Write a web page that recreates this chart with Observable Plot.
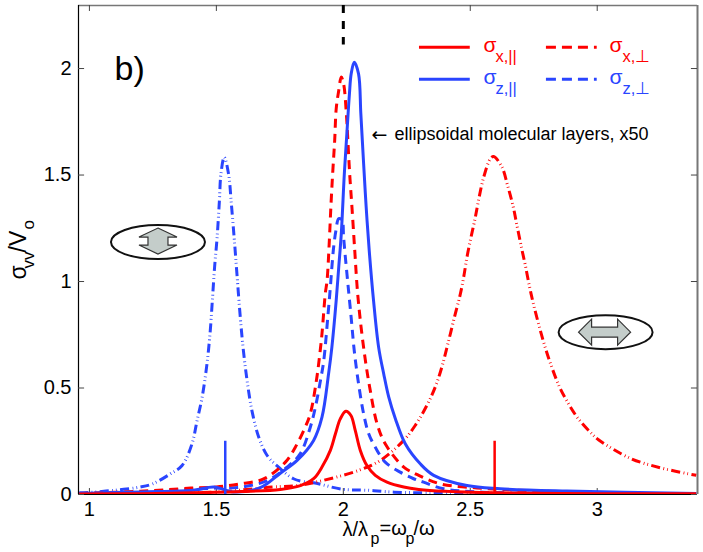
<!DOCTYPE html>
<html>
<head>
<meta charset="utf-8">
<script src="https://cdn.jsdelivr.net/npm/d3@7"></script>
<script src="https://cdn.jsdelivr.net/npm/@observablehq/plot@0.6"></script>
<style>
  body { margin: 0; background: #fff; }
  svg { display: block; }
</style>
</head>
<body>
<div id="chart"></div>
<script>
// axis ranges and ticks
const xDomain = [0.957, 3.395];
const yDomain = [0, 2.296];
const xTicks = [1, 1.5, 2, 2.5, 3];
const yTicks = [0, 0.5, 1, 1.5, 2];

// curves
const xParaX = [0.96, 1.2, 1.5, 1.6, 1.752, 1.831, 1.883, 1.916, 1.949, 1.969, 1.988, 2.01, 2.03, 2.047, 2.067, 2.093, 2.126, 2.172, 2.238, 2.297, 2.4, 2.6, 3, 3.39];
const xParaY = [0.002, 0.004, 0.01, 0.014, 0.024, 0.042, 0.074, 0.129, 0.207, 0.285, 0.355, 0.391, 0.371, 0.301, 0.207, 0.136, 0.09, 0.058, 0.035, 0.024, 0.015, 0.008, 0.004, 0.003];

const zParaX = [0.96, 1.2, 1.41, 1.49, 1.567, 1.673, 1.752, 1.818, 1.883, 1.916, 1.942, 1.955, 1.972, 1.982, 1.992, 2.004, 2.014, 2.024, 2.031, 2.043, 2.06, 2.069, 2.08, 2.09, 2.102, 2.119, 2.139, 2.159, 2.179, 2.205, 2.244, 2.303, 2.356, 2.487, 2.618, 2.88, 3.39];
const zParaY = [0.005, 0.012, 0.02, 0.035, 0.012, 0.032, 0.1, 0.16, 0.254, 0.363, 0.567, 0.692, 0.911, 1.068, 1.224, 1.506, 1.694, 1.88, 1.975, 2.03, 1.975, 1.788, 1.553, 1.35, 1.146, 0.911, 0.692, 0.567, 0.457, 0.356, 0.238, 0.144, 0.09, 0.042, 0.027, 0.016, 0.005];

const xPerpX = [0.96, 1.2, 1.4, 1.5, 1.594, 1.686, 1.772, 1.811, 1.85, 1.87, 1.894, 1.909, 1.916, 1.929, 1.936, 1.945, 1.951, 1.958, 1.966, 1.972, 1.982, 1.992, 2.001, 2.012, 2.018, 2.025, 2.034, 2.045, 2.056, 2.07, 2.087, 2.106, 2.133, 2.165, 2.238, 2.297, 2.382, 2.526, 2.657, 3, 3.39];
const xPerpY = [0.005, 0.015, 0.03, 0.035, 0.05, 0.073, 0.152, 0.222, 0.316, 0.379, 0.535, 0.676, 0.755, 0.943, 1.005, 1.193, 1.35, 1.506, 1.662, 1.811, 1.897, 1.96, 1.929, 1.788, 1.662, 1.506, 1.35, 1.146, 0.95, 0.786, 0.629, 0.489, 0.332, 0.238, 0.129, 0.09, 0.05, 0.031, 0.022, 0.008, 0.004];

const zPerpX = [0.96, 1.2, 1.4, 1.5, 1.6, 1.7, 1.778, 1.83, 1.87, 1.89, 1.91, 1.923, 1.94, 1.949, 1.955, 1.962, 1.971, 1.982, 1.995, 2.001, 2.008, 2.018, 2.032, 2.043, 2.06, 2.08, 2.1, 2.126, 2.165, 2.224, 2.277, 2.316, 2.395, 2.55, 3, 3.39];
const zPerpY = [0.004, 0.012, 0.025, 0.03, 0.035, 0.065, 0.128, 0.191, 0.316, 0.41, 0.535, 0.629, 0.848, 0.974, 1.068, 1.162, 1.24, 1.295, 1.287, 1.209, 1.115, 0.99, 0.817, 0.676, 0.52, 0.379, 0.285, 0.222, 0.152, 0.105, 0.074, 0.058, 0.027, 0.011, 0.005, 0.003];

const zEllX = [0.96, 1, 1.1, 1.2, 1.249, 1.319, 1.365, 1.404, 1.424, 1.444, 1.463, 1.476, 1.485, 1.493, 1.503, 1.512, 1.518, 1.531, 1.548, 1.559, 1.571, 1.581, 1.592, 1.605, 1.621, 1.64, 1.667, 1.7, 1.745, 1.804, 1.857, 1.883, 2, 2.093, 2.2, 2.5, 3, 3.39];
const zEllY = [0.008, 0.01, 0.02, 0.035, 0.05, 0.097, 0.136, 0.238, 0.347, 0.457, 0.613, 0.77, 0.926, 1.067, 1.208, 1.38, 1.505, 1.584, 1.505, 1.365, 1.192, 1.036, 0.864, 0.692, 0.535, 0.394, 0.269, 0.183, 0.128, 0.074, 0.058, 0.055, 0.024, 0.02, 0.011, 0.007, 0.004, 0.002];

const xEllX = [0.96, 1.5, 1.72, 1.82, 1.92, 2.06, 2.146, 2.237, 2.283, 2.329, 2.362, 2.388, 2.415, 2.441, 2.461, 2.474, 2.487, 2.503, 2.52, 2.535, 2.553, 2.579, 2.592, 2.625, 2.647, 2.668, 2.684, 2.7, 2.717, 2.734, 2.752, 2.789, 2.821, 2.852, 2.887, 2.926, 2.979, 3.005, 3.13, 3.25, 3.39];
const xEllY = [0.003, 0.012, 0.035, 0.042, 0.066, 0.113, 0.16, 0.253, 0.324, 0.418, 0.504, 0.598, 0.723, 0.848, 0.942, 1.02, 1.114, 1.208, 1.302, 1.396, 1.49, 1.576, 1.587, 1.537, 1.451, 1.357, 1.263, 1.169, 1.075, 0.973, 0.879, 0.715, 0.598, 0.504, 0.426, 0.355, 0.285, 0.257, 0.17, 0.125, 0.09];

// resonance stems and the dashed marker at the top
const stemBlue = 1.535;
const stemRed = 2.596;
const stemTop = 0.25;
const markerX = 2;
const markerY = [2.296, 2.11];

const red = "#ff0000";
const blue = "#2a45ff";
const dashed = "9,6";
const dashDot = "9,3.5,0.8,3,0.8,3.4";
const font = "'Liberation Sans', Arial, sans-serif";

function curve(xs, ys, stroke, dash) {
  return Plot.line(ys, {
    x: xs, y: ys, stroke, strokeWidth: 3, strokeDasharray: dash,
    curve: "catmull-rom", clip: true, strokeLinejoin: "round", strokeLinecap: "butt"
  });
}

// text placed by pixel position inside the svg
function note(text, px, py, size, fill = "#000", extra = {}) {
  return Plot.text([text], {
    frameAnchor: "top-left", dx: px - 78, dy: py - 5,
    fontSize: size, fill, textAnchor: "start", fontFamily: font, ...extra
  });
}

function swatch(y, x1, x2, stroke, dash) {
  return Plot.ruleY([y], {x1, x2, stroke, strokeWidth: 3, strokeDasharray: dash});
}

// the two little ellipse icons with the arrows
function icon(cx, cy, points) {
  return (index, {x, y}) => {
    const g = d3.create("svg:g")
      .attr("transform", `translate(${x(cx)},${y(cy)})`);
    g.append("ellipse").attr("rx", 47).attr("ry", 17)
      .attr("fill", "#fff").attr("stroke", "#111").attr("stroke-width", 2);
    g.append("polygon").attr("points", points)
      .attr("fill", "#c4cdca").attr("stroke", "#333").attr("stroke-width", 1.2);
    return g.node();
  };
}
const arrowV = "0,-14 19,-5 10,-5 10,3 19,3 0,12 -19,3 -10,3 -10,-5 -19,-5";
const arrowH = "-27,0 -14,-13 -14,-5 12,-5 12,-13 25,0 12,13 12,5 -14,5 -14,13";

const chart = Plot.plot({
  width: 703,
  height: 552,
  marginLeft: 78,
  marginRight: 6,
  marginTop: 5,
  marginBottom: 58,
  style: {background: "#fff", fontFamily: font},
  x: {domain: xDomain, label: null},
  y: {domain: yDomain, label: null},
  marks: [
    // box
    Plot.ruleX([xDomain[1]], {stroke: "#777", strokeWidth: 2}),
    Plot.ruleY([yDomain[1]], {stroke: "#777", strokeWidth: 1.5}),
    Plot.ruleX([xDomain[0]], {stroke: "#000", strokeWidth: 1.2}),
    Plot.ruleY([yDomain[0]], {stroke: "#000", strokeWidth: 1.2}),
    // inward ticks
    Plot.ruleX(xTicks, {y1: 0, y2: 0.028, stroke: "#444"}),
    Plot.ruleX(xTicks, {y1: yDomain[1], y2: yDomain[1] - 0.028, stroke: "#444"}),
    Plot.ruleY(yTicks, {x1: xDomain[0], x2: xDomain[0] + 0.024, stroke: "#444"}),
    Plot.ruleY(yTicks, {x1: xDomain[1], x2: xDomain[1] - 0.024, stroke: "#444"}),
    Plot.axisX(xTicks, {tickSize: 0, tickPadding: 7, fontSize: 20, tickFormat: d => d, fill: "#000"}),
    Plot.axisY(yTicks, {tickSize: 0, tickPadding: 7, fontSize: 20, tickFormat: d => d, fill: "#000"}),

    curve(zEllX, zEllY, blue, dashDot),
    curve(xEllX, xEllY, red, dashDot),
    curve(zPerpX, zPerpY, blue, dashed),
    curve(xPerpX, xPerpY, red, dashed),
    curve(zParaX, zParaY, blue),
    curve(xParaX, xParaY, red),

    Plot.ruleX([stemBlue], {y1: 0, y2: stemTop, stroke: blue, strokeWidth: 2.5}),
    Plot.ruleX([stemRed], {y1: 0, y2: stemTop, stroke: red, strokeWidth: 2.5}),
    Plot.ruleX([markerX], {y1: markerY[0], y2: markerY[1], stroke: "#000", strokeWidth: 3, strokeDasharray: "8,8"}),

    // legend
    swatch(2.1, 2.3, 2.5, red),
    swatch(2.1, 2.8, 3.0, red, "10,6"),
    swatch(1.95, 2.3, 2.5, blue),
    swatch(1.95, 2.8, 3.0, blue, "10,6"),
    note("σ", 483, 37, 21, red),
    note("x,||", 495, 50, 16.5, red),
    note("σ", 609, 37, 21, red),
    note("x,⊥", 622, 50, 16.5, red),
    note("σ", 483, 69, 21, blue),
    note("z,||", 495, 82, 16.5, blue),
    note("σ", 609, 69, 21, blue),
    note("z,⊥", 622, 82, 16.5, blue),

    note("b)", 114, 55, 34),
    note("←", 371, 127, 19, "#000", {fontFamily: "'DejaVu Sans'"}),
    note("ellipsoidal molecular layers, x50", 394, 127, 18),

    // axis labels
    note("λ/λ", 342, 521, 20),
    note("p", 370, 532, 16),
    note("=ω", 379, 520, 20),
    note("p", 405, 532, 16),
    note("/ω", 413, 520, 20),
    note("σ", 9, 279, 23, "#000", {rotate: -90}),
    note("vv", 21, 268, 17, "#000", {rotate: -90}),
    note("/V", 9, 252, 23, "#000", {rotate: -90}),
    note("o", 21, 229, 17, "#000", {rotate: -90}),

    icon(1.272, 1.183, arrowV),
    icon(3.035, 0.76, arrowH)
  ]
});

document.getElementById("chart").append(chart);
</script>
</body>
</html>
